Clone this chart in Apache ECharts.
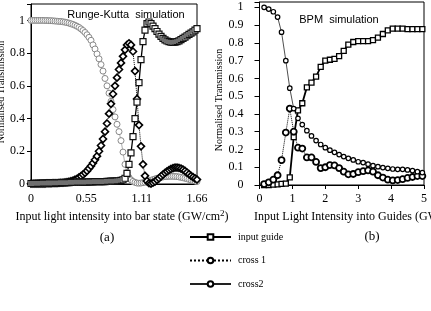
<!DOCTYPE html>
<html>
<head>
<meta charset="utf-8">
<script src="https://cdn.jsdelivr.net/npm/echarts@6/dist/echarts.min.js"></script>
<style>
  html, body { margin: 0; padding: 0; background: #fff; }
  #chart { width: 431px; height: 311px; }
</style>
</head>
<body>
<div id="chart"></div>
<script>
// (a) Runge-Kutta: sample positions (GW/cm2) and transmissions
var xA = [
  0, 0.02, 0.04, 0.06, 0.08, 0.10, 0.12, 0.14, 0.16, 0.18,
  0.20, 0.22, 0.24, 0.26, 0.28, 0.30, 0.32, 0.34, 0.36, 0.38,
  0.40, 0.42, 0.44, 0.46, 0.48, 0.50, 0.52, 0.54, 0.56, 0.58,
  0.60, 0.62, 0.64, 0.66, 0.68, 0.70, 0.72, 0.74, 0.76, 0.78,
  0.80, 0.82, 0.84, 0.86, 0.88, 0.90, 0.92, 0.94, 0.96, 0.98,
  1.00, 1.02, 1.04, 1.06, 1.08, 1.10, 1.12, 1.14, 1.16, 1.18,
  1.20, 1.22, 1.24, 1.26, 1.28, 1.30, 1.32, 1.34, 1.36, 1.38,
  1.40, 1.42, 1.44, 1.46, 1.48, 1.50, 1.52, 1.54, 1.56, 1.58,
  1.60, 1.62, 1.64, 1.66
];
var inputA = [
  0.003, 0.003, 0.003, 0.004, 0.004, 0.004, 0.005, 0.005, 0.005, 0.006,
  0.006, 0.006, 0.007, 0.007, 0.007, 0.008, 0.008, 0.008, 0.009, 0.009,
  0.010, 0.010, 0.010, 0.011, 0.011, 0.011, 0.012, 0.012, 0.012, 0.013,
  0.013, 0.013, 0.014, 0.014, 0.014, 0.015, 0.015, 0.015, 0.016, 0.016,
  0.017, 0.017, 0.018, 0.019, 0.020, 0.022, 0.026, 0.035, 0.065, 0.12,
  0.19, 0.29, 0.40, 0.50, 0.62, 0.76, 0.87, 0.94, 0.98, 0.99,
  0.98, 0.965, 0.95, 0.932, 0.916, 0.902, 0.89, 0.881, 0.874, 0.87,
  0.867, 0.866, 0.867, 0.87, 0.875, 0.882, 0.89, 0.898, 0.906, 0.914,
  0.922, 0.93, 0.94, 0.95
];
var cross1A = [
  0.002, 0.002, 0.002, 0.002, 0.003, 0.003, 0.003, 0.003, 0.004, 0.004,
  0.004, 0.005, 0.005, 0.006, 0.007, 0.008, 0.009, 0.010, 0.012, 0.014,
  0.017, 0.021, 0.026, 0.032, 0.040, 0.048, 0.058, 0.068, 0.080, 0.095,
  0.11, 0.128, 0.148, 0.17, 0.20, 0.235, 0.275, 0.32, 0.37, 0.43,
  0.49, 0.55, 0.60, 0.65, 0.70, 0.74, 0.78, 0.82, 0.85, 0.86,
  0.85, 0.81, 0.69, 0.52, 0.36, 0.23, 0.12, 0.05, 0.018, 0.005,
  0.003, 0.008, 0.015, 0.025, 0.035, 0.047, 0.058, 0.068, 0.077, 0.085,
  0.092, 0.097, 0.10, 0.10, 0.098, 0.094, 0.088, 0.08, 0.07, 0.06,
  0.05, 0.042, 0.034, 0.027
];
var cross2A = [
  1.0, 1.0, 1.0, 1.0, 1.0, 1.0, 1.0, 0.999, 0.999, 0.998,
  0.998, 0.997, 0.996, 0.995, 0.994, 0.993, 0.991, 0.989, 0.986, 0.983,
  0.979, 0.975, 0.97, 0.964, 0.957, 0.948, 0.938, 0.926, 0.912, 0.896,
  0.878, 0.85, 0.825, 0.795, 0.765, 0.73, 0.69, 0.645, 0.60, 0.555,
  0.505, 0.455, 0.41, 0.365, 0.32, 0.265, 0.195, 0.12, 0.07, 0.04,
  0.025, 0.016, 0.01, 0.006, 0.005, 0.006, 0.008, 0.011, 0.015, 0.019,
  0.023, 0.027, 0.031, 0.035, 0.038, 0.041, 0.043, 0.045, 0.046, 0.047,
  0.047, 0.047, 0.046, 0.045, 0.043, 0.041, 0.038, 0.035, 0.032, 0.028,
  0.025, 0.021, 0.018, 0.015
];

// (b) BPM: sample positions (GW/cm2) and transmissions
var xB = [
  0.14, 0.28, 0.42, 0.55, 0.67, 0.80, 0.92, 1.04, 1.17, 1.30,
  1.44, 1.58, 1.72, 1.86, 2.0, 2.14, 2.28, 2.42, 2.56, 2.70,
  2.85, 3.0, 3.15, 3.3, 3.45, 3.6, 3.75, 3.9, 4.05, 4.2,
  4.35, 4.5, 4.65, 4.8, 4.95
];
var inputB = [
  0, 0, 0.002, 0.004, 0.006, 0.008, 0.043, 0.27, 0.42, 0.46,
  0.55, 0.576, 0.61, 0.665, 0.70, 0.705, 0.71, 0.725, 0.755, 0.79,
  0.805, 0.81, 0.81, 0.81, 0.815, 0.83, 0.85, 0.87, 0.88, 0.88,
  0.88, 0.877, 0.877, 0.877, 0.877
];
var cross1B = [
  0.005, 0.015, 0.03, 0.055, 0.14, 0.295, 0.43, 0.30, 0.21, 0.205,
  0.155, 0.155, 0.13, 0.095, 0.10, 0.112, 0.11, 0.095, 0.075, 0.06,
  0.062, 0.072, 0.078, 0.082, 0.075, 0.055, 0.042, 0.03, 0.026, 0.028,
  0.033, 0.04, 0.045, 0.05, 0.05
];
var cross2B = [
  1.0, 0.99, 0.975, 0.945, 0.86, 0.70, 0.545, 0.43, 0.375, 0.34,
  0.306, 0.276, 0.25, 0.228, 0.21, 0.196, 0.184, 0.171, 0.16, 0.15,
  0.141, 0.131, 0.126, 0.117, 0.109, 0.103, 0.098, 0.094, 0.09, 0.088,
  0.088, 0.085, 0.081, 0.075, 0.07
];

var seriesNames = ['input guide', 'cross 1', 'cross2'];
var xTicksA = [0, 0.55, 1.11, 1.66];

var SERIF = 'Liberation Serif';
var SANS = 'Liberation Sans';

function pairs(xs, ys) {
  return xs.map(function(x, i) { return [x, ys[i]]; });
}

function mkLine(name, idx, xs, ys, symbol, size, border, bw, lineColor, lw, ltype) {
  return {
    name: name,
    type: 'line',
    xAxisIndex: idx,
    yAxisIndex: idx,
    data: pairs(xs, ys),
    symbol: symbol,
    symbolSize: size,
    showAllSymbol: true,
    itemStyle: { color: '#fff', borderColor: border, borderWidth: bw },
    lineStyle: { color: lineColor, width: lw, type: ltype },
    emphasis: { disabled: true }
  };
}

var chart = echarts.init(document.getElementById('chart'), null, { renderer: 'canvas' });

var labelStyle = { color: '#000', fontFamily: SERIF, fontSize: 12 };
var axisLine = { lineStyle: { color: '#000', width: 1 } };

var option = {
  animation: false,
  backgroundColor: '#fff',
  grid: [
    { left: 31, top: 4, width: 166, height: 180, show: true, borderColor: '#000', borderWidth: 1, backgroundColor: 'transparent' },
    { left: 259.5, top: 2, width: 164.5, height: 183, show: true, borderColor: '#000', borderWidth: 1, backgroundColor: 'transparent' }
  ],
  xAxis: [
    {
      gridIndex: 0, type: 'value', min: 0, max: 1.66, interval: 1.66 / 3,
      axisLine: axisLine, axisTick: { show: false }, splitLine: { show: false },
      axisLabel: Object.assign({ margin: 9, formatter: function(v) {
        var best = xTicksA.reduce(function(a, b) { return Math.abs(b - v) < Math.abs(a - v) ? b : a; });
        return best === 0 ? '0' : best.toFixed(2);
      } }, labelStyle)
    },
    {
      gridIndex: 1, type: 'value', min: 0, max: 5, interval: 1,
      axisLine: axisLine, axisTick: { show: true, length: 4, lineStyle: { color: '#000' } },
      splitLine: { show: false },
      axisLabel: Object.assign({ margin: 8 }, labelStyle)
    }
  ],
  yAxis: [
    {
      gridIndex: 0, type: 'value', min: 0, max: 1.1, interval: 0.2,
      axisLine: axisLine, axisTick: { show: true, length: 4, lineStyle: { color: '#000' } },
      splitLine: { show: false },
      axisLabel: Object.assign({ margin: 6, formatter: function(v) { return v > 1.05 ? '' : String(v); } }, labelStyle)
    },
    {
      gridIndex: 1, type: 'value', min: 0, max: 1.03, interval: 0.1,
      axisLine: axisLine, axisTick: { show: true, length: 5, lineStyle: { color: '#000' } },
      splitLine: { show: false },
      axisLabel: Object.assign({ margin: 16, formatter: function(v) { return v > 1.01 ? '' : String(v); } }, labelStyle)
    }
  ],
  legend: {
    data: seriesNames,
    orient: 'vertical',
    left: 184,
    top: 227,
    itemWidth: 41,
    itemHeight: 7,
    itemGap: 13.5,
    selectedMode: false,
    textStyle: { color: '#000', fontFamily: SERIF, fontSize: 10, padding: [0, 0, 0, 2] }
  },
  series: [
    // (b) first so the legend takes its markers
    mkLine(seriesNames[0], 1, xB, inputB, 'rect', 5, '#000', 1.3, '#000', 1.8, 'solid'),
    mkLine(seriesNames[1], 1, xB, cross1B, 'circle', 6, '#000', 1.8, '#000', 1, 'dotted'),
    mkLine(seriesNames[2], 1, xB, cross2B, 'circle', 4.5, '#000', 1.2, '#222', 0.8, 'solid'),
    mkLine(seriesNames[2], 0, xA, cross2A, 'circle', 6, '#8a8a8a', 1, '#999', 0.8, 'solid'),
    mkLine(seriesNames[1], 0, xA, cross1A, 'diamond', 7, '#000', 1.6, '#000', 1, 'dotted'),
    mkLine(seriesNames[0], 0, xA, inputA, 'rect', 6, '#111', 1.2, '#000', 1.3, 'solid')
  ],
  graphic: [
    { type: 'text', x: 126, y: 15, style: { text: 'Runge-Kutta  simulation', align: 'center', verticalAlign: 'middle', font: '11px ' + SANS, fill: '#000' } },
    { type: 'text', x: 339, y: 20, style: { text: 'BPM  simulation', align: 'center', verticalAlign: 'middle', font: '11px ' + SANS, fill: '#000' } },
    { type: 'text', x: 122, y: 217, style: {
      text: 'Input light intensity into bar state (GW/cm{s|2})', align: 'center', verticalAlign: 'middle',
      font: '12px ' + SERIF, fill: '#000', rich: { s: { fontSize: 9, fontFamily: SERIF, verticalAlign: 'top', padding: [0, 0, 6, 0] } } } },
    { type: 'text', x: 254, y: 217, style: {
      text: 'Input Light Intensity into Guides (GW/cm{s|2})', align: 'left', verticalAlign: 'middle',
      font: '12px ' + SERIF, fill: '#000', rich: { s: { fontSize: 9, fontFamily: SERIF, verticalAlign: 'top', padding: [0, 0, 6, 0] } } } },
    { type: 'text', x: 1, y: 92, rotation: Math.PI / 2, style: { text: 'Normalised Transmission', align: 'center', verticalAlign: 'middle', font: '10px ' + SERIF, fill: '#000' } },
    { type: 'text', x: 219, y: 100, rotation: Math.PI / 2, style: { text: 'Normalised Transmission', align: 'center', verticalAlign: 'middle', font: '10px ' + SERIF, fill: '#000' } },
    { type: 'text', x: 107, y: 238, style: { text: '(a)', align: 'center', verticalAlign: 'middle', font: '13px ' + SERIF, fill: '#000' } },
    { type: 'text', x: 372, y: 237, style: { text: '(b)', align: 'center', verticalAlign: 'middle', font: '13px ' + SERIF, fill: '#000' } }
  ]
};

chart.setOption(option);
</script>
</body>
</html>
